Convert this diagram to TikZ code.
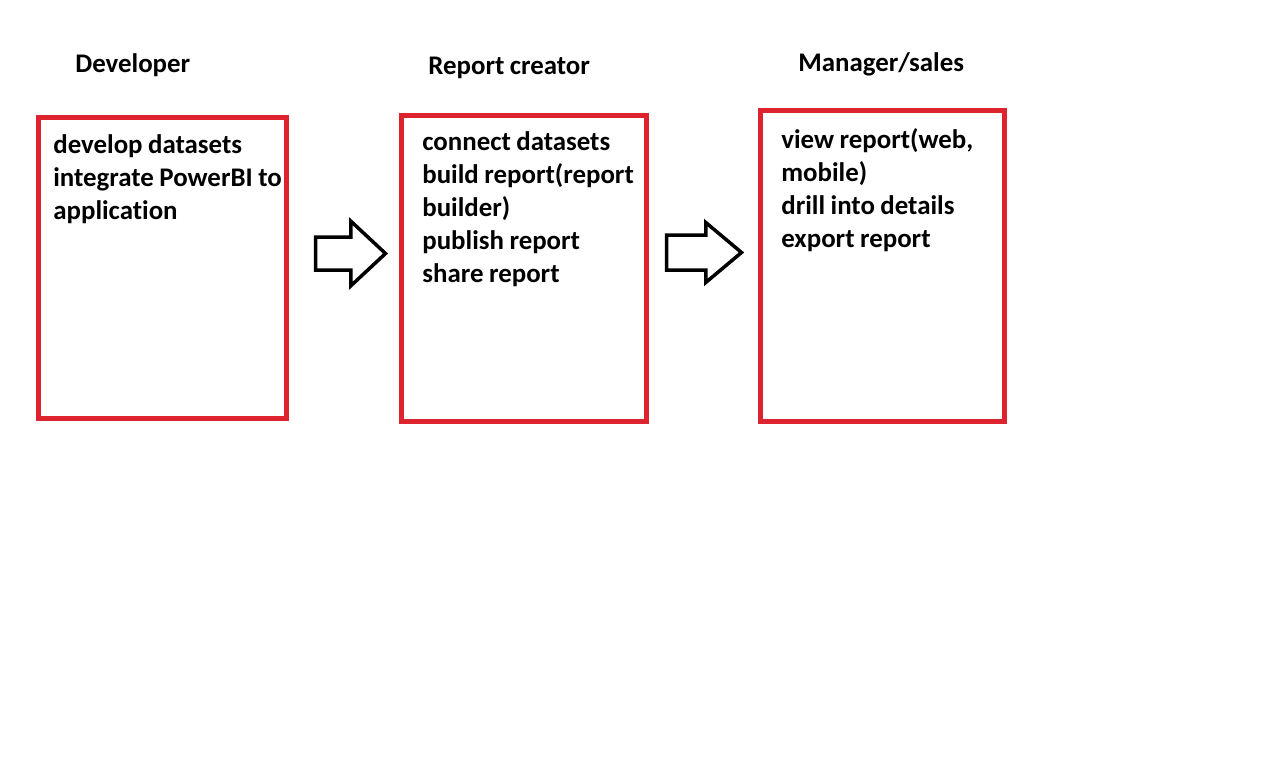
\documentclass[tikz,border=0pt]{standalone}
\usepackage{fontspec}
\setmainfont{Carlito}[WordSpace=0.9, Ligatures=NoCommon]
\usetikzlibrary{shapes.arrows}

\definecolor{boxred}{RGB}{221,36,46}
\newcommand{\px}{0.02cm}
\newcommand{\fontPx}{15.3pt}
\newcommand{\linePx}{18.75pt}

\tikzset{
  rolebox/.style   = {draw=boxred, line width=5*\px, inner sep=0pt},
  roletitle/.style = {anchor=base west, inner sep=0pt, font=\bfseries\fontsize{\fontPx}{\linePx}\selectfont},
  tasklist/.style  = {anchor=base west, inner sep=0pt, align=left,
                      font=\bfseries\fontsize{\fontPx}{\linePx}\selectfont},
  blockarrow/.style= {single arrow, draw=black, line width=3.5*\px, anchor=tail, inner xsep=0pt}
}

\begin{document}
\begin{tikzpicture}[x=\px, y=-\px]

  \useasboundingbox (0,0) rectangle (1280,760);

  % Titles:
  \node[roletitle] (devTitle) at (75,73)  {Developer};
  \node[roletitle] (repTitle) at (428,75) {Report creator};
  \node[roletitle] (mgrTitle) at (798,72) {Manager/sales};

  % Boxes:
  \node[rolebox, minimum width=248*\px, minimum height=301*\px] (devBox) at (162.5,268)   {};
  \node[rolebox, minimum width=245*\px, minimum height=306*\px] (repBox) at (524,268.5)   {};
  \node[rolebox, minimum width=244*\px, minimum height=310*\px] (mgrBox) at (882.5,266)   {};

  % Tasks (placed at the baseline of the last line):
  \node[tasklist] (devTasks) at (53,219)  {develop datasets\\integrate PowerBI to\\application};
  \node[tasklist] (repTasks) at (422,282) {connect datasets\\build report(report\\builder)\\publish report\\share report};
  \node[tasklist] (mgrTasks) at (781,247) {view report(web,\\mobile)\\drill into details\\export report};

  % Arrows:
  \node[blockarrow, inner ysep=14.75*\px, single arrow head extend=15.75*\px,
        single arrow tip angle=86, minimum height=70*\px] (devArrow) at (313.75,253.5) {};
  \node[blockarrow, inner ysep=15.75*\px, single arrow head extend=12.5*\px,
        single arrow tip angle=80, minimum height=75*\px] (repArrow) at (664.75,252.5) {};

\end{tikzpicture}
\end{document}
